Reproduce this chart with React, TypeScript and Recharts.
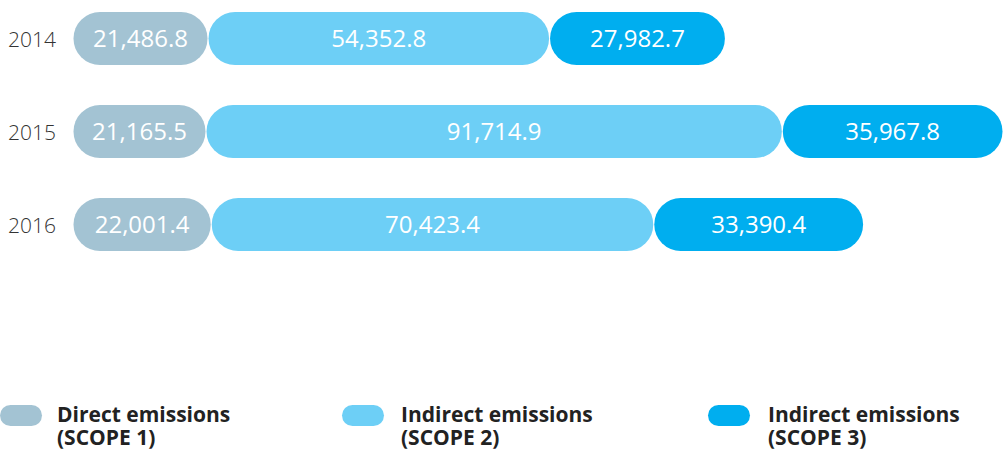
import { Bar, BarChart, LabelList, XAxis, YAxis } from "recharts";

const years = ["2014", "2015", "2016"];
const scope1 = [21486.8, 21165.5, 22001.4];
const scope2 = [54352.8, 91714.9, 70423.4];
const scope3 = [27982.7, 35967.8, 33390.4];

const seriesNames = [
  ["Direct emissions", "(SCOPE 1)"],
  ["Indirect emissions", "(SCOPE 2)"],
  ["Indirect emissions", "(SCOPE 3)"],
];
const colors = ["#a3c3d3", "#6dcff6", "#00aeef"];

const data = years.map((year, i) => ({
  year,
  scope1: scope1[i],
  scope2: scope2[i],
  scope3: scope3[i],
}));

const font = "'Open Sans', sans-serif";
const fmt = (v: number) => v.toLocaleString("en-US", { minimumFractionDigits: 1, maximumFractionDigits: 1 });

function Pill(props: any) {
  const { x, y, width, height, fill } = props;
  if (!width || width <= 0) return null;
  return <rect x={x + 0.5} y={y} width={width - 1} height={height} rx={height / 2} ry={height / 2} fill={fill} />;
}

function YearTick({ y, payload }: any) {
  return (
    <text x={8} y={y} dy={8} textAnchor="start" fill="#333" fontSize={21} fontWeight={300} fontFamily={font}>
      {payload.value}
    </text>
  );
}

const legendPos = [
  { pill: 0, text: 57 },
  { pill: 342, text: 401 },
  { pill: 708, text: 768 },
];

const legendText = {
  position: "absolute" as const,
  fontFamily: font,
  fontWeight: 700,
  fontSize: 21,
  lineHeight: "22px",
  color: "#222",
  whiteSpace: "nowrap" as const,
};

export default function App() {
  return (
    <div style={{ position: "absolute", top: -8, left: 0, width: 1003, height: 458 }}>
      <BarChart width={1003} height={458} data={data} layout="vertical" margin={{ top: 0, right: 0, left: 0, bottom: 179 }} barSize={53}>
        <XAxis type="number" hide domain={[0, 148000]} allowDataOverflow />
        <YAxis type="category" dataKey="year" width={73} axisLine={false} tickLine={false} tick={<YearTick />} />
        {["scope1", "scope2", "scope3"].map((key, i) => (
          <Bar key={key} dataKey={key} stackId="a" fill={colors[i]} shape={<Pill />} isAnimationActive={false}>
            <LabelList
              dataKey={key}
              position="center"
              formatter={(v: any) => fmt(Number(v))}
              fill="#fff"
              fontSize={24}
              fontWeight={500}
              fontFamily={font}
            />
          </Bar>
        ))}
      </BarChart>
      {seriesNames.map((lines, i) => (
        <div key={i}>
          <div
            style={{
              position: "absolute",
              left: legendPos[i].pill,
              top: 413,
              width: 42,
              height: 21,
              borderRadius: 10.5,
              background: colors[i],
            }}
          />
          <div style={{ ...legendText, left: legendPos[i].text, top: 411 }}>{lines[0]}</div>
          <div style={{ ...legendText, left: legendPos[i].text, top: 434 }}>{lines[1]}</div>
        </div>
      ))}
    </div>
  );
}
